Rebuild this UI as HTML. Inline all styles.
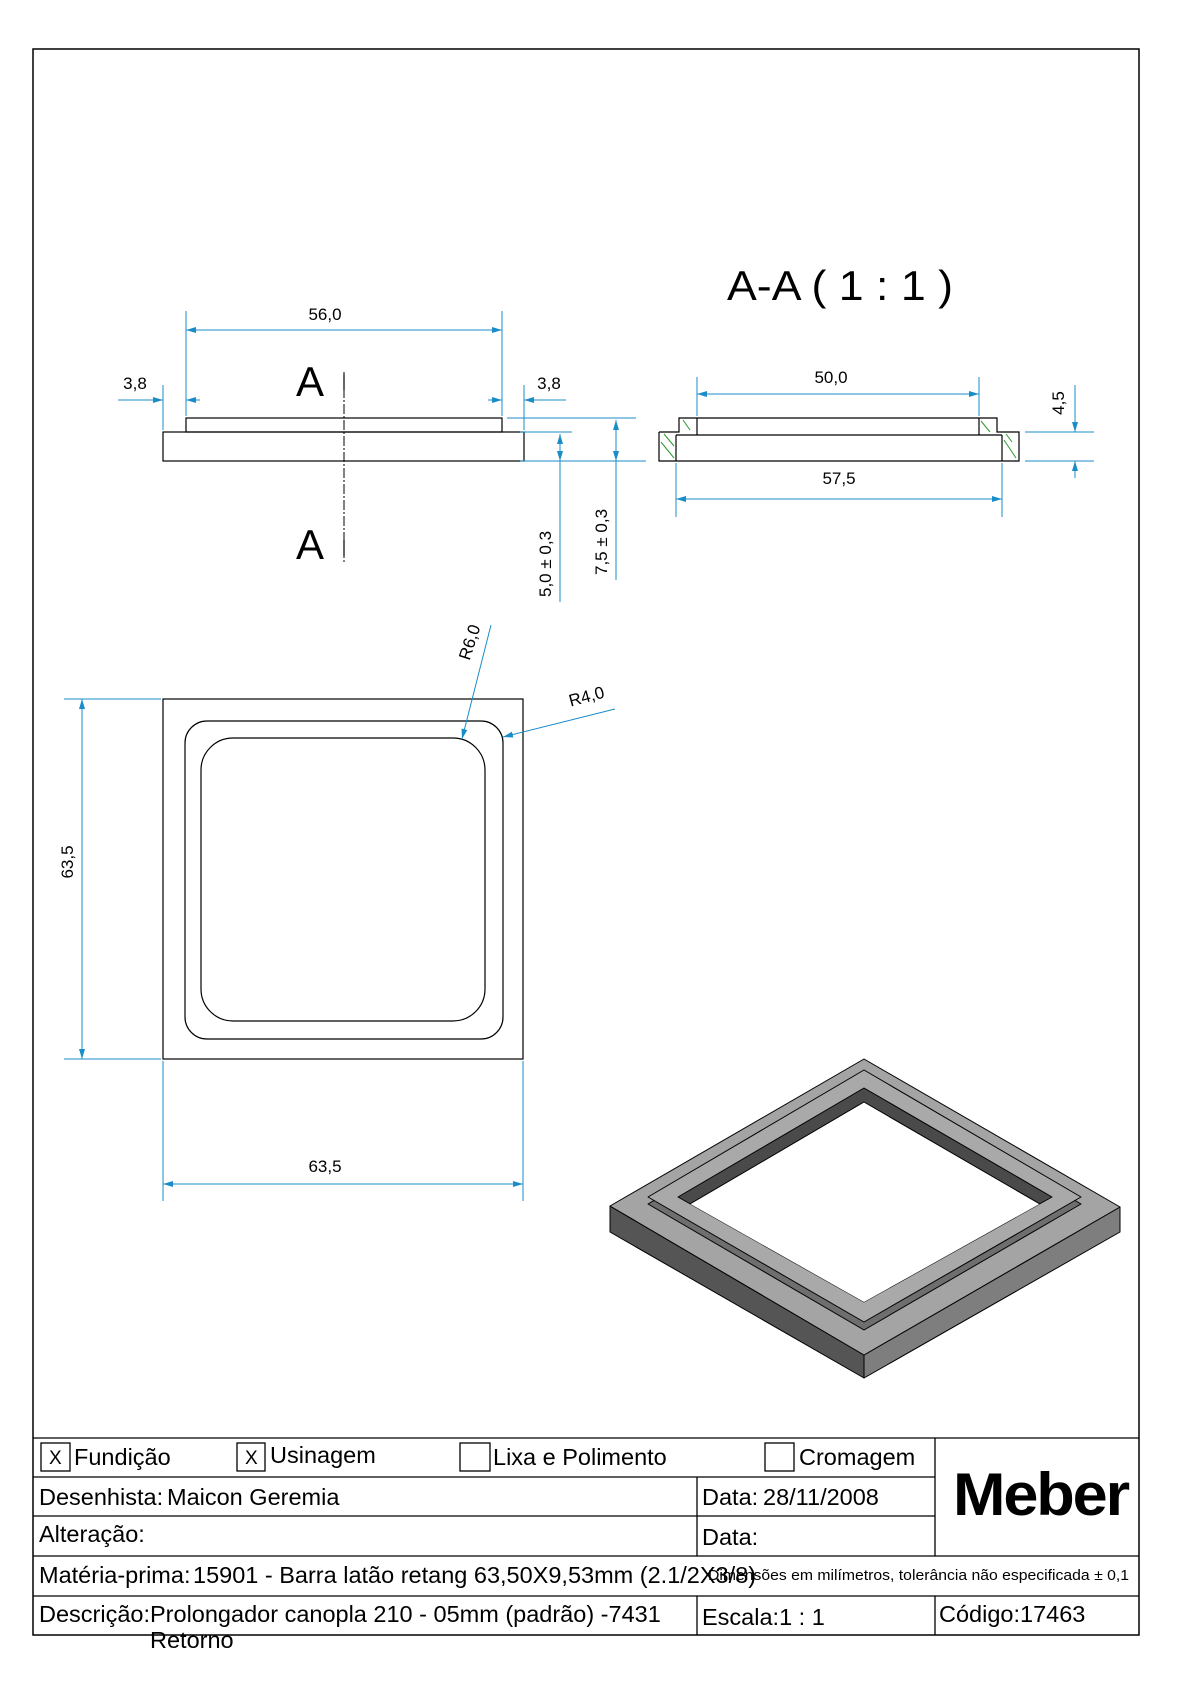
<!DOCTYPE html>
<html><head><meta charset="utf-8"><style>
html,body{margin:0;padding:0;background:#fff;}
svg{display:block;font-family:"Liberation Sans",Arial,sans-serif;}
</style></head><body>
<svg width="1190" height="1684" viewBox="0 0 1190 1684" xmlns="http://www.w3.org/2000/svg">
<defs>
<marker id="a" viewBox="0 0 10 6" refX="10" refY="3" markerWidth="10" markerHeight="6" markerUnits="userSpaceOnUse" orient="auto-start-reverse"><path d="M0,0 L10,3 L0,6z" fill="#1a8cc8"/></marker>
<clipPath id="rim"><polygon points="864,1088 1052,1197 864,1302 678,1197"/></clipPath>
</defs>
<rect x="33" y="49" width="1106" height="1586" fill="none" stroke="#000" stroke-width="1.5"/>

<!-- Front view -->
<g fill="none" stroke="#000" stroke-width="1.2">
<rect x="163" y="432" width="361" height="29"/>
<rect x="186" y="418" width="316" height="14"/>
</g>
<line x1="344" y1="372" x2="344" y2="562" stroke="#000" stroke-width="1" stroke-dasharray="10,2,2,2"/>
<line x1="344" y1="374" x2="344" y2="390" stroke="#000" stroke-width="1.2"/>
<line x1="344" y1="540" x2="344" y2="556" stroke="#000" stroke-width="1.2"/>
<text x="296" y="396" font-size="42">A</text>
<text x="296" y="559" font-size="42">A</text>

<g stroke="#1a8cc8" stroke-width="1" fill="none">
<line x1="186" y1="311" x2="186" y2="416"/><line x1="502" y1="311" x2="502" y2="416"/>
<line x1="186" y1="330" x2="502" y2="330" marker-start="url(#a)" marker-end="url(#a)"/>
<line x1="163" y1="385" x2="163" y2="430"/>
<line x1="524" y1="385" x2="524" y2="430"/>
<line x1="118" y1="400" x2="163" y2="400" marker-end="url(#a)"/>
<line x1="200" y1="400" x2="186" y2="400" marker-end="url(#a)"/>
<line x1="488" y1="400" x2="502" y2="400" marker-end="url(#a)"/>
<line x1="566" y1="400" x2="524" y2="400" marker-end="url(#a)"/>
<line x1="520" y1="432" x2="572" y2="432"/><line x1="520" y1="461" x2="646" y2="461"/>
<line x1="507" y1="418" x2="636" y2="418"/>
<line x1="560" y1="434" x2="560" y2="602" marker-start="url(#a)"/>
<line x1="560" y1="459" x2="560" y2="461" marker-end="url(#a)"/>
<line x1="616" y1="420" x2="616" y2="580" marker-start="url(#a)"/>
<line x1="616" y1="459" x2="616" y2="461" marker-end="url(#a)"/>
</g>
<g font-size="17" fill="#000" text-anchor="middle">
<text x="325" y="320">56,0</text>
<text x="135" y="389">3,8</text>
<text x="549" y="389">3,8</text>
<text transform="translate(551,564) rotate(-90)">5,0 ± 0,3</text>
<text transform="translate(607,542) rotate(-90)">7,5 ± 0,3</text>
</g>

<!-- Section view -->
<text x="727" y="300" font-size="42" textLength="226" lengthAdjust="spacingAndGlyphs">A-A ( 1 : 1 )</text>
<g stroke="#2a9a2a" stroke-width="1">
<line x1="661" y1="442" x2="674" y2="458"/><line x1="664" y1="434" x2="674" y2="446"/>
<line x1="683" y1="420" x2="690" y2="430"/>
<line x1="981" y1="421" x2="990" y2="432"/>
<line x1="1004" y1="440" x2="1016" y2="458"/><line x1="1006" y1="434" x2="1012" y2="442"/>
</g>
<g fill="none" stroke="#000" stroke-width="1.2">
<polyline points="659,432 679,432 679,418 997,418 997,432 1019,432 1019,461 659,461 659,432"/>
<line x1="676" y1="435" x2="676" y2="461"/>
<line x1="676" y1="435" x2="1002" y2="435"/>
<line x1="697" y1="418" x2="697" y2="435"/>
<line x1="979" y1="418" x2="979" y2="435"/>
<line x1="1002" y1="435" x2="1002" y2="461"/>
</g>
<g stroke="#1a8cc8" stroke-width="1" fill="none">
<line x1="697" y1="377" x2="697" y2="416"/><line x1="979" y1="377" x2="979" y2="416"/>
<line x1="697" y1="394" x2="979" y2="394" marker-start="url(#a)" marker-end="url(#a)"/>
<line x1="676" y1="463" x2="676" y2="517"/><line x1="1002" y1="463" x2="1002" y2="517"/>
<line x1="676" y1="499" x2="1002" y2="499" marker-start="url(#a)" marker-end="url(#a)"/>
<line x1="1025" y1="432" x2="1094" y2="432"/><line x1="1025" y1="461" x2="1094" y2="461"/>
<line x1="1075" y1="385" x2="1075" y2="432" marker-end="url(#a)"/>
<line x1="1075" y1="478" x2="1075" y2="461" marker-end="url(#a)"/>
</g>
<g font-size="17" fill="#000" text-anchor="middle">
<text x="831" y="383">50,0</text>
<text x="839" y="484">57,5</text>
<text transform="translate(1064,403) rotate(-90)">4,5</text>
</g>

<!-- Top view -->
<g fill="none" stroke="#000" stroke-width="1.2">
<rect x="163" y="699" width="360" height="360"/>
<rect x="185" y="721" width="318" height="318" rx="22"/>
<rect x="201" y="738" width="284" height="283" rx="32"/>
</g>
<g stroke="#1a8cc8" stroke-width="1" fill="none">
<line x1="64" y1="699" x2="161" y2="699"/><line x1="64" y1="1059" x2="161" y2="1059"/>
<line x1="82" y1="699" x2="82" y2="1059" marker-start="url(#a)" marker-end="url(#a)"/>
<line x1="163" y1="1061" x2="163" y2="1201"/><line x1="523" y1="1061" x2="523" y2="1201"/>
<line x1="163" y1="1184" x2="523" y2="1184" marker-start="url(#a)" marker-end="url(#a)"/>
<line x1="491" y1="625" x2="462" y2="739" marker-end="url(#a)"/>
<line x1="615" y1="709" x2="503" y2="737" marker-end="url(#a)"/>
</g>
<g font-size="17" fill="#000" text-anchor="middle">
<text transform="translate(73,862) rotate(-90)">63,5</text>
<text x="325" y="1172">63,5</text>
<text transform="translate(475,644) rotate(-72)">R6,0</text>
<text transform="translate(588,702) rotate(-15)">R4,0</text>
</g>

<!-- Iso view -->
<g stroke="#000" stroke-width="1" stroke-linejoin="round">
<polygon points="610,1206 864,1355 864,1378 610,1232" fill="#555"/>
<polygon points="864,1355 1120,1207 1120,1232 864,1378" fill="#7e7e7e"/>
<polygon points="864,1059 1120,1207 864,1355 610,1206" fill="#a4a4a4"/>
<polygon points="864,1077 1081,1204 864,1330 648,1204" fill="#6e6e6e"/>
<polygon points="864,1070 1081,1197 864,1322 648,1197" fill="#a9a9a9"/>
<polygon points="864,1088 1052,1197 864,1302 678,1197" fill="#4a4a4a"/>
</g>
<g clip-path="url(#rim)"><polygon points="864,1102 1052,1211 864,1316 678,1211" fill="#fff" stroke="#000" stroke-width="1"/></g>

<!-- Title block -->
<g stroke="#000" stroke-width="1.3" fill="none">
<line x1="33" y1="1438" x2="1139" y2="1438"/>
<line x1="33" y1="1477" x2="935" y2="1477"/>
<line x1="33" y1="1516" x2="935" y2="1516"/>
<line x1="33" y1="1556" x2="1139" y2="1556"/>
<line x1="33" y1="1596" x2="1139" y2="1596"/>
<line x1="935" y1="1438" x2="935" y2="1556"/>
<line x1="697" y1="1477" x2="697" y2="1556"/>
<line x1="697" y1="1596" x2="697" y2="1635"/>
<line x1="935" y1="1596" x2="935" y2="1635"/>
<rect x="41" y="1443" width="29" height="28"/>
<rect x="237" y="1443" width="28" height="28"/>
<rect x="460" y="1443" width="30" height="28"/>
<rect x="765" y="1443" width="29" height="28"/>
</g>
<g font-size="23.5" fill="#000">
<text x="49" y="1464" font-size="19">X</text>
<text x="245" y="1464" font-size="19">X</text>
<text x="74" y="1465">Fundição</text>
<text x="270" y="1463">Usinagem</text>
<text x="493" y="1465">Lixa e Polimento</text>
<text x="799" y="1465">Cromagem</text>
<text x="39" y="1505">Desenhista:</text>
<text x="167" y="1505">Maicon Geremia</text>
<text x="702" y="1505">Data:</text>
<text x="763" y="1505">28/11/2008</text>
<text x="39" y="1542">Alteração:</text>
<text x="702" y="1545">Data:</text>
<text x="39" y="1583">Matéria-prima:</text>
<text x="193" y="1583">15901 - Barra latão retang 63,50X9,53mm (2.1/2X3/8)</text>
<text x="708" y="1580" font-size="14.5" textLength="421" lengthAdjust="spacingAndGlyphs">Dimensões em milímetros, tolerância não especificada ± 0,1</text>
<text x="39" y="1622">Descrição:</text>
<text x="150" y="1622">Prolongador canopla 210 - 05mm (padrão) -7431</text>
<text x="150" y="1648">Retorno</text>
<text x="702" y="1625">Escala:1 : 1</text>
<text x="939" y="1622">Código:17463</text>
<text x="953" y="1515" font-size="60" font-weight="bold" letter-spacing="-2" textLength="175" lengthAdjust="spacingAndGlyphs">Meber</text>
</g>
</svg>
</body></html>
